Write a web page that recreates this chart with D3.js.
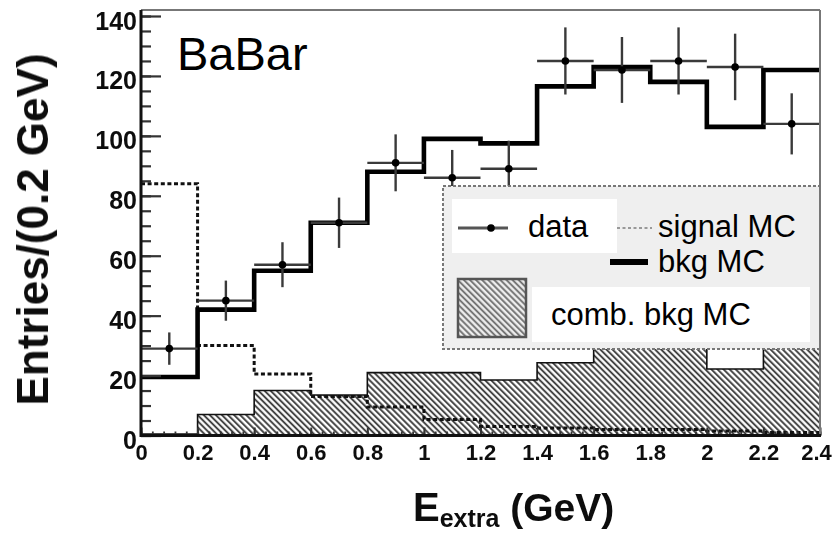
<!DOCTYPE html>
<html>
<head>
<meta charset="utf-8">
<script src="https://cdn.jsdelivr.net/npm/d3@7"></script>
<style>
  html, body { margin: 0; padding: 0; background: #fff; }
  svg { display: block; }
  text { font-family: "Liberation Sans", Arial, Helvetica, sans-serif; }
</style>
</head>
<body>
<svg id="chart" width="834" height="534"></svg>
<script>
// Histogram bins of E_extra (GeV), width 0.2
const binStarts = [0, 0.2, 0.4, 0.6, 0.8, 1.0, 1.2, 1.4, 1.6, 1.8, 2.0, 2.2];
const binWidth = 0.2;

// Observed data with statistical uncertainties
const dataCounts = [29, 45, 57, 71, 91, 86, 89, 125, 122, 125, 123, 104];
const dataErrors = [5.4, 6.7, 7.5, 8.4, 9.5, 9.3, 9.4, 11.2, 11, 11.2, 11.1, 10.2];

// Monte Carlo expectations per bin
const bkgMC = [19.5, 42, 55, 71, 88, 99, 97.5, 116.5, 123, 118, 103, 122];
const signalMC = [84, 30, 20.5, 13, 9.5, 5.3, 3, 2.5, 2, 2, 1.5, 1];
const combBkgMC = [0.5, 7, 15, 13.5, 21, 21, 18.5, 24.3, 31, 32, 22.2, 31];

// Axis ticks
const yMajorTicks = [0, 20, 40, 60, 80, 100, 120, 140];
const yMinorTicks = d3.range(0, 141, 5);
const xTickValues = [0, 0.2, 0.4, 0.6, 0.8, 1.0, 1.2, 1.4, 1.6, 1.8, 2.0, 2.2, 2.4];
const xTickLabels = ["0", "0.2", "0.4", "0.6", "0.8", "1", "1.2", "1.4", "1.6", "1.8", "2", "2.2", "2.4"];
const xMinorTicks = d3.range(0, 2.401, 0.04);

const svg = d3.select("#chart");

const x = d3.scaleLinear().domain([0, 2.4]).range([141, 820]);
const y = d3.scaleLinear().domain([0, 140]).range([435.5, 16]);
const plotTop = 10;

const defs = svg.append("defs");
const hatch = defs.append("pattern")
  .attr("id", "hatch")
  .attr("patternUnits", "userSpaceOnUse")
  .attr("width", 4.3).attr("height", 4.3)
  .attr("patternTransform", "rotate(-45)");
hatch.append("rect").attr("width", 4.3).attr("height", 4.3).attr("fill", "#fff");
hatch.append("line").attr("x1", 1.1).attr("x2", 1.1).attr("y1", 0).attr("y2", 4.3)
  .attr("stroke", "#333").attr("stroke-width", 1.8);

const hatchLegend = defs.append("pattern")
  .attr("id", "hatchLegend")
  .attr("patternUnits", "userSpaceOnUse")
  .attr("width", 4.3).attr("height", 4.3)
  .attr("patternTransform", "rotate(-45)");
hatchLegend.append("rect").attr("width", 4.3).attr("height", 4.3).attr("fill", "#eee");
hatchLegend.append("line").attr("x1", 1.1).attr("x2", 1.1).attr("y1", 0).attr("y2", 4.3)
  .attr("stroke", "#6a6a6a").attr("stroke-width", 1.8);

defs.append("filter").attr("id", "soft")
  .append("feGaussianBlur").attr("stdDeviation", 0.55);

// step series: each bin value held across its width
function stepPoints(values) {
  const pts = binStarts.map((b, i) => [b, values[i]]);
  pts.push([binStarts[binStarts.length - 1] + binWidth, values[values.length - 1]]);
  return pts;
}

const stepLine = d3.line()
  .x(d => x(d[0])).y(d => y(d[1]))
  .curve(d3.curveStepAfter);

const stepArea = d3.area()
  .x(d => x(d[0])).y0(y(0)).y1(d => y(d[1]))
  .curve(d3.curveStepAfter);

// combinatorial background (hatched)
svg.append("path")
  .datum(stepPoints(combBkgMC))
  .attr("d", stepArea)
  .attr("fill", "url(#hatch)");
svg.append("path")
  .datum(stepPoints(combBkgMC))
  .attr("d", stepLine)
  .attr("fill", "none")
  .attr("stroke", "#111")
  .attr("stroke-width", 1.6);

// signal MC (dotted)
svg.append("path")
  .datum(stepPoints(signalMC))
  .attr("d", stepLine)
  .attr("fill", "none")
  .attr("stroke", "#111")
  .attr("stroke-width", 3)
  .attr("stroke-dasharray", "4,2.6");

// background MC (thick)
svg.append("path")
  .datum(stepPoints(bkgMC))
  .attr("d", stepLine)
  .attr("fill", "none")
  .attr("stroke", "#000")
  .attr("stroke-width", 4.6)
  .attr("stroke-linejoin", "miter");

// data points with error bars
const pts = svg.append("g").selectAll("g")
  .data(binStarts.map((b, i) => ({ lo: b, hi: b + binWidth, mid: b + binWidth / 2, v: dataCounts[i], e: dataErrors[i] })))
  .join("g");
pts.append("line")
  .attr("x1", d => x(d.lo)).attr("x2", d => x(d.hi))
  .attr("y1", d => y(d.v)).attr("y2", d => y(d.v))
  .attr("stroke", "#3a3a3a").attr("stroke-width", 2.4);
pts.append("line")
  .attr("x1", d => x(d.mid)).attr("x2", d => x(d.mid))
  .attr("y1", d => y(d.v + d.e)).attr("y2", d => y(d.v - d.e))
  .attr("stroke", "#3a3a3a").attr("stroke-width", 2.4);
pts.append("circle")
  .attr("cx", d => x(d.mid)).attr("cy", d => y(d.v))
  .attr("r", 3.8).attr("fill", "#000");

// legend
const lg = svg.append("g");
lg.append("rect")
  .attr("x", 443).attr("y", 186).attr("width", 377).attr("height", 163)
  .attr("fill", "#efefef")
  .attr("stroke", "#777").attr("stroke-width", 2).attr("stroke-dasharray", "3,2");
lg.append("rect").attr("x", 452).attr("y", 199).attr("width", 165).attr("height", 54).attr("fill", "#fff");
lg.append("rect").attr("x", 532).attr("y", 287).attr("width", 278).attr("height", 55).attr("fill", "#fff");
lg.append("line").attr("x1", 458).attr("x2", 508).attr("y1", 228).attr("y2", 228)
  .attr("stroke", "#555").attr("stroke-width", 3);
lg.append("circle").attr("cx", 491).attr("cy", 228).attr("r", 3.8).attr("fill", "#000");
lg.append("line").attr("x1", 617).attr("x2", 652).attr("y1", 228).attr("y2", 228)
  .attr("stroke", "#444").attr("stroke-width", 1.2).attr("stroke-dasharray", "3,2.5");
lg.append("line").attr("x1", 610).attr("x2", 648).attr("y1", 262).attr("y2", 262)
  .attr("stroke", "#000").attr("stroke-width", 6);
lg.append("rect").attr("x", 458).attr("y", 279).attr("width", 68).attr("height", 58)
  .attr("fill", "url(#hatchLegend)").attr("stroke", "#555").attr("stroke-width", 2.5);
const legendText = [
  { t: "data", x: 528, y: 237 },
  { t: "signal MC", x: 658, y: 237 },
  { t: "bkg MC", x: 658, y: 272 },
  { t: "comb. bkg MC", x: 551, y: 325 }
];
lg.selectAll("text.leg").data(legendText).join("text")
  .attr("class", "leg")
  .attr("x", d => d.x).attr("y", d => d.y)
  .attr("font-size", 31).attr("fill", "#000")
  .text(d => d.t);

// experiment tag
svg.append("text").attr("x", 177).attr("y", 70)
  .attr("font-size", 47).attr("fill", "#000").text("BaBar");

// axes: ticks drawn inward
const axisG = svg.append("g");
const yMinor = axisG.append("g").attr("transform", `translate(${x(0)},0)`)
  .call(d3.axisLeft(y).tickValues(yMinorTicks).tickSize(-10).tickFormat(""));
yMinor.select(".domain").remove();
yMinor.selectAll("line").attr("stroke", "#333").attr("stroke-width", 2.2);

const yMajor = axisG.append("g").attr("transform", `translate(${x(0)},0)`)
  .call(d3.axisLeft(y).tickValues(yMajorTicks).tickSize(-20).tickPadding(4));
yMajor.select(".domain").remove();
yMajor.selectAll("line").attr("stroke", "#333").attr("stroke-width", 2.2);
yMajor.selectAll("text")
  .attr("font-size", 25).attr("font-weight", "bold").attr("fill", "#111")
  .attr("dy", "0.52em").attr("filter", "url(#soft)")
  .style("font-family", "'Liberation Sans', Arial, sans-serif");

const xMinor = axisG.append("g").attr("transform", `translate(0,${y(0)})`)
  .call(d3.axisBottom(x).tickValues(xMinorTicks).tickSize(-4).tickFormat(""));
xMinor.select(".domain").remove();
xMinor.selectAll("line").attr("stroke", "#333").attr("stroke-width", 1.8);

const xMajor = axisG.append("g").attr("transform", `translate(0,${y(0)})`)
  .call(d3.axisBottom(x).tickValues(xTickValues).tickSize(-8).tickPadding(9)
    .tickFormat((d, i) => xTickLabels[i]));
xMajor.select(".domain").remove();
xMajor.selectAll("line").attr("stroke", "#333").attr("stroke-width", 2);
xMajor.selectAll("text")
  .attr("font-size", 22).attr("font-weight", "bold").attr("fill", "#111")
  .attr("filter", "url(#soft)")
  .style("font-family", "'Liberation Sans', Arial, sans-serif");
// keep the last label inside the page edge
xMajor.selectAll("text").filter((d, i, n) => i === n.length - 1).attr("dx", -4);

// frame
svg.append("line").attr("x1", x(0)).attr("x2", x(2.4)).attr("y1", plotTop).attr("y2", plotTop)
  .attr("stroke", "#777").attr("stroke-width", 2);
svg.append("line").attr("x1", x(2.4)).attr("x2", x(2.4)).attr("y1", plotTop).attr("y2", y(0))
  .attr("stroke", "#777").attr("stroke-width", 2);
svg.append("line").attr("x1", x(0)).attr("x2", x(0)).attr("y1", plotTop).attr("y2", y(0) + 1.5)
  .attr("stroke", "#111").attr("stroke-width", 3);
svg.append("line").attr("x1", x(0)).attr("x2", x(2.4) + 1).attr("y1", y(0)).attr("y2", y(0))
  .attr("stroke", "#111").attr("stroke-width", 3);

// axis titles
svg.append("text")
  .attr("transform", "translate(48,229.5) rotate(-90)")
  .attr("text-anchor", "middle")
  .attr("font-size", 44).attr("font-weight", "bold").attr("fill", "#111")
  .attr("filter", "url(#soft)")
  .text("Entries/(0.2 GeV)");

const xt = svg.append("text")
  .attr("x", 413).attr("y", 521)
  .attr("font-weight", "bold").attr("fill", "#111")
  .attr("filter", "url(#soft)");
xt.append("tspan").attr("font-size", 40).text("E");
xt.append("tspan").attr("font-size", 25).attr("dy", 6).text("extra");
xt.append("tspan").attr("font-size", 39).attr("dy", -6).text(" (GeV)");
</script>
</body>
</html>
